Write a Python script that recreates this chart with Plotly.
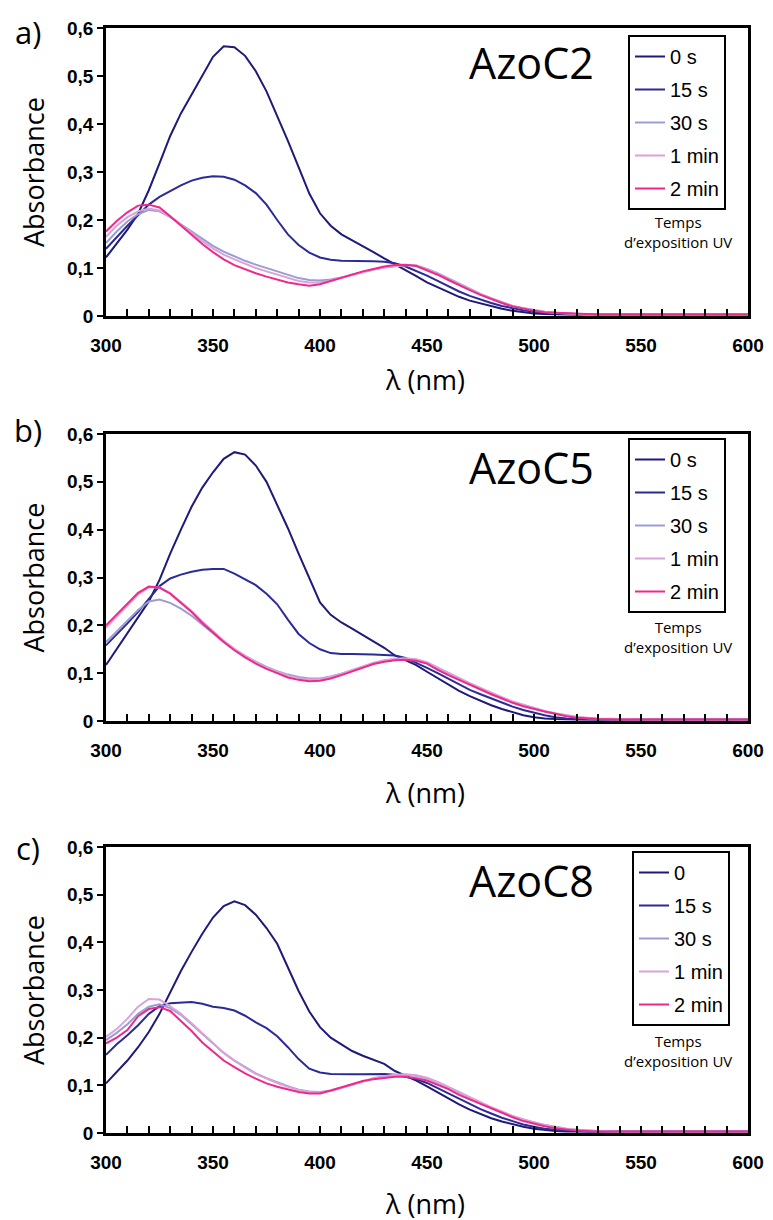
import plotly.graph_objects as go

# ---------------- data ----------------
wavelength = [300, 305, 310, 315, 320, 325, 330, 335, 340, 345, 350, 355, 360, 365, 370, 375,
              380, 385, 390, 395, 400, 405, 410, 415, 420, 425, 430, 435, 440, 445, 450, 455,
              460, 465, 470, 475, 480, 485, 490, 495, 500, 505, 510, 515, 520, 525, 530,
              540, 550, 560, 580, 600]

series_names_a = ["0 s", "15 s", "30 s", "1 min", "2 min"]
series_names_b = ["0 s", "15 s", "30 s", "1 min", "2 min"]
series_names_c = ["0", "15 s", "30 s", "1 min", "2 min"]

# AzoC2
a_0s = [.122, .150, .180, .213, .262, .318, .375, .422, .462, .502, .540, .562, .560, .542, .510, .468,
        .418, .365, .310, .255, .214, .188, .170, .158, .146, .133, .120, .108, .096, .083, .070, .060,
        .050, .040, .032, .026, .020, .015, .011, .008, .005, .004, .003, .003, .003, .003, .003,
        .003, .003, .003, .003, .003]
a_15s = [.140, .165, .188, .210, .232, .248, .260, .272, .282, .288, .291, .290, .284, .272, .256, .232,
         .200, .170, .148, .132, .122, .117, .115, .115, .115, .114, .113, .110, .103, .094, .084, .073,
         .062, .051, .042, .034, .027, .021, .016, .012, .009, .007, .005, .004, .003, .003, .003,
         .003, .003, .003, .003, .003]
a_30s = [.152, .176, .197, .212, .221, .218, .206, .191, .175, .160, .146, .134, .124, .115, .107, .100,
         .093, .086, .079, .075, .074, .076, .080, .086, .092, .097, .101, .104, .106, .105, .098, .089,
         .078, .067, .057, .046, .037, .029, .021, .016, .012, .009, .007, .005, .004, .003, .003,
         .003, .003, .003, .003, .003]
a_1m = [.165, .188, .206, .218, .224, .220, .207, .190, .172, .156, .141, .128, .118, .109, .100, .093,
        .086, .079, .073, .070, .070, .074, .080, .086, .092, .097, .101, .104, .106, .105, .097, .088,
        .077, .066, .056, .045, .036, .028, .021, .016, .012, .009, .007, .005, .004, .003, .003,
        .003, .003, .003, .003, .003]
a_2m = [.176, .198, .216, .230, .232, .226, .208, .188, .168, .150, .133, .118, .106, .097, .089, .082,
        .076, .070, .066, .063, .066, .073, .080, .086, .093, .098, .103, .106, .107, .104, .095, .086,
        .075, .064, .054, .044, .035, .027, .020, .015, .011, .008, .007, .005, .004, .003, .003,
        .003, .003, .003, .003, .003]

# AzoC5
b_0s = [.117, .150, .182, .215, .250, .295, .350, .400, .448, .488, .520, .548, .562, .557, .534, .500,
        .452, .403, .350, .297, .248, .222, .206, .193, .180, .167, .153, .137, .127, .117, .103, .090,
        .076, .063, .052, .042, .033, .025, .018, .012, .008, .005, .004, .003, .003, .003, .003,
        .003, .003, .003, .003, .003]
b_15s = [.158, .180, .204, .228, .254, .282, .298, .306, .312, .316, .318, .318, .308, .296, .284, .266,
         .244, .212, .182, .163, .150, .142, .140, .140, .140, .139, .138, .137, .132, .122, .111, .100,
         .088, .076, .065, .056, .047, .038, .030, .023, .017, .012, .008, .005, .004, .003, .003,
         .003, .003, .003, .003, .003]
b_30s = [.165, .188, .210, .232, .250, .254, .247, .235, .220, .202, .183, .165, .150, .136, .124, .113,
         .104, .097, .092, .089, .089, .093, .099, .106, .113, .120, .125, .128, .129, .127, .121, .110,
         .099, .089, .078, .068, .058, .049, .040, .033, .026, .020, .015, .011, .008, .006, .004,
         .003, .003, .003, .003, .003]
b_1m = [.195, .218, .242, .264, .279, .279, .268, .250, .230, .208, .187, .168, .151, .136, .123, .112,
        .103, .095, .090, .087, .088, .092, .099, .107, .115, .122, .127, .130, .131, .129, .123, .112,
        .100, .089, .079, .069, .059, .050, .041, .034, .027, .021, .016, .012, .009, .007, .005,
        .004, .003, .003, .003, .003]
b_2m = [.200, .222, .246, .268, .281, .279, .266, .248, .228, .205, .184, .165, .148, .133, .120, .109,
        .100, .091, .086, .083, .084, .089, .096, .104, .112, .119, .124, .127, .128, .126, .120, .107,
        .096, .086, .075, .065, .056, .047, .038, .031, .025, .020, .015, .010, .007, .005, .004,
        .003, .003, .003, .003, .003]

# AzoC8
c_0s = [.104, .128, .152, .180, .212, .250, .295, .340, .380, .418, .452, .476, .486, .478, .458, .430,
        .397, .346, .298, .255, .222, .200, .186, .172, .162, .154, .145, .130, .120, .110, .098, .085,
        .072, .060, .049, .040, .031, .024, .018, .013, .009, .006, .004, .003, .003, .003, .003,
        .003, .003, .003, .003, .003]
c_15s = [.164, .186, .205, .226, .250, .266, .272, .274, .275, .271, .265, .262, .257, .246, .232, .220,
         .203, .180, .155, .135, .127, .124, .123, .123, .123, .124, .124, .122, .118, .113, .105, .094,
         .082, .071, .060, .050, .041, .032, .025, .018, .013, .009, .007, .005, .004, .003, .003,
         .003, .003, .003, .003, .003]
c_30s = [.195, .210, .228, .250, .265, .270, .262, .248, .228, .208, .188, .168, .152, .138, .125, .115,
         .106, .098, .091, .087, .086, .089, .095, .102, .109, .115, .119, .121, .122, .120, .115, .106,
         .096, .085, .074, .063, .053, .044, .035, .028, .022, .017, .013, .009, .007, .005, .004,
         .003, .003, .003, .003, .003]
c_1m = [.202, .218, .240, .265, .281, .280, .266, .250, .230, .209, .188, .168, .152, .137, .124, .114,
        .105, .097, .090, .086, .085, .088, .094, .101, .108, .114, .119, .122, .123, .121, .116, .107,
        .097, .086, .075, .064, .054, .045, .036, .029, .022, .017, .013, .009, .007, .005, .004,
        .003, .003, .003, .003, .003]
c_2m = [.188, .200, .216, .245, .260, .264, .256, .236, .214, .190, .170, .152, .138, .125, .114, .104,
        .097, .091, .086, .083, .083, .089, .096, .103, .109, .113, .116, .118, .118, .115, .110, .101,
        .092, .080, .070, .061, .052, .042, .033, .025, .019, .014, .010, .007, .005, .004, .003,
        .003, .003, .003, .003, .003]

panel_titles = ["AzoC2", "AzoC5", "AzoC8"]
panel_letters = ["a)", "b)", "c)"]
x_title = "λ (nm)"
y_title = "Absorbance"
note_text = "Temps<br>d’exposition UV"
y_tick_vals = [0, 0.1, 0.2, 0.3, 0.4, 0.5, 0.6]
y_tick_text = ["0", "0,1", "0,2", "0,3", "0,4", "0,5", "0,6"]
x_tick_vals = [300, 350, 400, 450, 500, 550, 600]
x_tick_text = ["300", "350", "400", "450", "500", "550", "600"]

colors = ["#1d1a7a", "#2b2b98", "#9c9cd4", "#d9a3da", "#f0288a"]

panels = [
    (series_names_a, [a_0s, a_15s, a_30s, a_1m, a_2m]),
    (series_names_b, [b_0s, b_15s, b_30s, b_1m, b_2m]),
    (series_names_c, [c_0s, c_15s, c_30s, c_1m, c_2m]),
]

# ---------------- layout geometry (screen pixels) ----------------
W, H = 773, 1220
OFF = 8  # page body margin offset of the rendered figure
def px(x):
    return (x - OFF) / W
def py(y):
    return 1 - (y - OFF) / H

plot_left, plot_right = 106, 748
panel_tb = [(28, 316), (434, 721), (847, 1133)]
letter_y = [32, 430, 848]
title_y = [63, 467, 880]
xtitle_y = [379, 792, 1203]
legend_pos = [(628, 35), (628, 438), (632, 851)]
note_y = [232, 637, 1051]

fig = go.Figure()
legend_ids = ["legend", "legend2", "legend3"]

for i, (names, ys) in enumerate(panels):
    ax = "" if i == 0 else str(i + 1)
    for j, (nm, yv) in enumerate(zip(names, ys)):
        fig.add_trace(go.Scatter(
            x=wavelength, y=yv, mode="lines", name=nm,
            line=dict(color=colors[j], width=2),
            xaxis="x" + ax, yaxis="y" + ax,
            legend=legend_ids[i], legendgroup=f"p{i}s{j}",
        ))

layout = dict(
    width=W, height=H,
    margin=dict(l=0, r=0, t=0, b=0, autoexpand=False),
    paper_bgcolor="white", plot_bgcolor="white",
    showlegend=True,
    annotations=[],
)

tickfont = dict(family="Arial", size=19, color="black", weight="bold")
label_font = dict(family="Open Sans", color="black")

for i, (top, bot) in enumerate(panel_tb):
    ax = "" if i == 0 else str(i + 1)
    layout["xaxis" + ax] = dict(
        domain=[px(plot_left), px(plot_right)], anchor="y" + ax, automargin=False,
        range=[300, 600], tickmode="array", tickvals=x_tick_vals, ticktext=x_tick_text,
        ticks="inside", ticklen=7, tickwidth=2, tickcolor="black",
        minor=dict(dtick=10, ticks="inside", ticklen=7, tickwidth=2, tickcolor="black"),
        showline=True, linewidth=2.5, linecolor="black", mirror=True,
        showgrid=False, zeroline=False, tickfont=tickfont, ticklabelstandoff=10,
    )
    layout["yaxis" + ax] = dict(
        domain=[py(bot), py(top)], anchor="x" + ax, automargin=False,
        range=[0, 0.6], tickmode="array", tickvals=y_tick_vals, ticktext=y_tick_text,
        ticks="outside", ticklen=6, tickwidth=2, tickcolor="black",
        showline=True, linewidth=2.5, linecolor="black", mirror=True,
        showgrid=False, zeroline=False, tickfont=tickfont,
    )
    lx, ly = legend_pos[i]
    layout[legend_ids[i]] = dict(
        x=px(lx), y=py(ly), xanchor="left", yanchor="top",
        bordercolor="black", borderwidth=2, bgcolor="white",
        font=dict(family="Arial", size=20, color="black"),
        tracegroupgap=4, traceorder="grouped",
    )
    anns = layout["annotations"]
    anns.append(dict(text=panel_letters[i], x=px(28), y=py(letter_y[i]), xref="paper", yref="paper",
                     showarrow=False, xanchor="center", yanchor="middle",
                     font=dict(label_font, size=31)))
    anns.append(dict(text=panel_titles[i], x=px(531), y=py(title_y[i]), xref="paper", yref="paper",
                     showarrow=False, xanchor="center", yanchor="middle",
                     font=dict(label_font, size=43)))
    anns.append(dict(text=y_title, x=px(33), y=py((top + bot) / 2), xref="paper", yref="paper",
                     showarrow=False, xanchor="center", yanchor="middle", textangle=-90,
                     font=dict(label_font, size=27)))
    anns.append(dict(text=x_title, x=px(425), y=py(xtitle_y[i]), xref="paper", yref="paper",
                     showarrow=False, xanchor="center", yanchor="middle",
                     font=dict(label_font, size=27)))
    anns.append(dict(text=note_text, x=px(678), y=py(note_y[i]), xref="paper", yref="paper",
                     showarrow=False, xanchor="center", yanchor="middle",
                     font=dict(label_font, size=15)))

fig.update_layout(**layout)
fig.write_html("out.html")
